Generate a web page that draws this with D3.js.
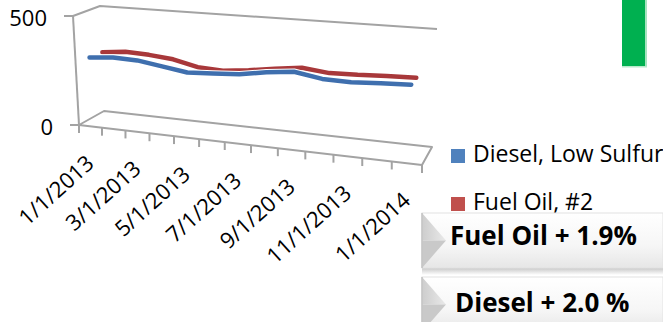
<!DOCTYPE html>
<html>
<head>
<meta charset="utf-8">
<script src="https://cdn.jsdelivr.net/npm/d3@7"></script>
<style>
  html, body { margin: 0; padding: 0; background: #fff; overflow: hidden; }
  text { font-family: "Open Sans", "Liberation Sans", sans-serif; }
</style>
</head>
<body>
<svg id="chart" width="663" height="322"></svg>
<script>
// Monthly prices, Jan 2013 – Jan 2014
const months = ["1/1/2013", "2/1/2013", "3/1/2013", "4/1/2013", "5/1/2013", "6/1/2013",
                "7/1/2013", "8/1/2013", "9/1/2013", "10/1/2013", "11/1/2013", "12/1/2013", "1/1/2014"];
const tickLabels = ["1/1/2013", "3/1/2013", "5/1/2013", "7/1/2013", "9/1/2013", "11/1/2013", "1/1/2014"];
const dieselLowSulfur = [309, 319, 315, 298, 281, 287, 294, 313, 326, 306, 303, 310, 315];
const fuelOilNo2      = [307, 318, 313, 302, 276, 270, 283, 299, 314, 301, 304, 310, 313];
const valueTicks = [0, 500];
const seriesNames = ["Diesel, Low Sulfur", "Fuel Oil, #2"];
const seriesColors = ["#4F81BD", "#C0504D"];
const lineColors = ["#3f6fae", "#a8383a"];
const callouts = ["Fuel Oil + 1.9%", "Diesel + 2.0 %"];

const svg = d3.select("#chart");

// Scales in unit space; the 3-D box projection maps them onto the page.
const x = d3.scaleBand().domain(months).range([0, 1]);
const y = d3.scaleLinear().domain([0, 500]).range([0, 1]);

// Corners of the plot box: f = front, b = back; first digit category, second value.
const box = {
  f00: [79, 125], f10: [422, 165], f01: [73, 16], f11: [428, 42],
  b00: [104, 111], b10: [432, 147], b01: [100, 6], b11: [437, 29]
};
const persp = 1.16;
const warp = u => u / (persp + (1 - persp) * u);
const lerp = (a, b, k) => a + (b - a) * k;
const lerp2 = (p, q, k) => [lerp(p[0], q[0], k), lerp(p[1], q[1], k)];
function project(u, v, w) {
  const t = warp(u);
  const fb = lerp2(box.f00, box.f10, t), ft = lerp2(box.f01, box.f11, t);
  const bb = lerp2(box.b00, box.b10, t), bt = lerp2(box.b01, box.b11, t);
  return lerp2(lerp2(fb, ft, v), lerp2(bb, bt, v), w);
}

const gridColor = "#a3a3a3";
const frame = svg.append("g").attr("fill", "none").attr("stroke", gridColor)
  .attr("stroke-width", 2).attr("stroke-linejoin", "round");

// floor
frame.append("path").attr("d", d3.line()([
  project(0, 0, 0), project(1, 0, 0), project(1, 0, 1), project(0, 0, 1), project(0, 0, 0)
]));
// back wall top edge and left wall top edge
frame.append("path").attr("d", d3.line()([project(0, 1, 0), project(0, 1, 1), project(1, 1, 1)]));
// value axis
frame.append("path").attr("d", d3.line()([project(0, 0, 0), project(0, 1, 0)]));

// value ticks and labels
valueTicks.forEach(v => {
  const p = project(0, y(v), 0);
  frame.append("line").attr("x1", p[0] - 9).attr("y1", p[1]).attr("x2", p[0]).attr("y2", p[1]);
  svg.append("text").attr("x", p[0] - 26).attr("y", p[1] + 2).attr("dy", "0.36em")
    .attr("text-anchor", "end").attr("font-size", 22).attr("fill", "#000").text(v);
});

// category ticks on band boundaries
const bounds = months.map(m => x(m)).concat([1]);
bounds.forEach(u => {
  const p = project(u, 0, 0);
  frame.append("line").attr("x1", p[0]).attr("y1", p[1]).attr("x2", p[0]).attr("y2", p[1] + 8);
});

// category labels
const center = m => x(m) + x.bandwidth() / 2;
tickLabels.forEach(m => {
  const p = project(center(m), 0, 0);
  svg.append("text")
    .attr("transform", `translate(${p[0] + 5},${p[1] + 39}) rotate(-42)`)
    .attr("text-anchor", "end").attr("font-size", 22).attr("fill", "#000").text(m);
});

// series ribbons, back row first
const series = [
  { values: fuelOilNo2, depth: 0.6, color: lineColors[1] },
  { values: dieselLowSulfur, depth: 0.1, color: lineColors[0] }
];
const line = d3.line();
series.forEach(s => {
  const pts = months.map((m, i) => project(center(m), y(s.values[i]), s.depth));
  svg.append("path").attr("d", line(pts)).attr("fill", "none")
    .attr("stroke", "#ffffff").attr("stroke-width", 6.5).attr("stroke-linejoin", "round");
  svg.append("path").attr("d", line(pts)).attr("fill", "none")
    .attr("stroke", s.color).attr("stroke-width", 4.5)
    .attr("stroke-linejoin", "round").attr("stroke-linecap", "round");
});

// legend
const legend = svg.append("g");
seriesNames.forEach((name, i) => {
  const yb = 162 + i * 48;
  legend.append("rect").attr("x", 451).attr("y", yb - 13).attr("width", 14).attr("height", 14)
    .attr("fill", seriesColors[i]);
  legend.append("text").attr("x", 473).attr("y", yb).attr("font-size", 23).attr("fill", "#000").text(name);
});

// callout boxes
const defs = svg.append("defs");
const bodyGrad = defs.append("linearGradient").attr("id", "bodyGrad")
  .attr("x1", 0).attr("y1", 0).attr("x2", 0).attr("y2", 1);
bodyGrad.append("stop").attr("offset", 0).attr("stop-color", "#ffffff");
bodyGrad.append("stop").attr("offset", 0.6).attr("stop-color", "#f6f6f6");
bodyGrad.append("stop").attr("offset", 1).attr("stop-color", "#e6e6e6");
const shadowGrad = defs.append("linearGradient").attr("id", "shadowGrad")
  .attr("x1", 0).attr("y1", 0).attr("x2", 0).attr("y2", 1);
shadowGrad.append("stop").attr("offset", 0).attr("stop-color", "#b8b8b8");
shadowGrad.append("stop").attr("offset", 1).attr("stop-color", "#ffffff");
const chevGrad = defs.append("linearGradient").attr("id", "chevGrad")
  .attr("x1", 0).attr("y1", 0).attr("x2", 1).attr("y2", 0);
chevGrad.append("stop").attr("offset", 0).attr("stop-color", "#cdcdcd");
chevGrad.append("stop").attr("offset", 1).attr("stop-color", "#e9e9e9");

const boxes = [
  { top: 213, h: 55, text: callouts[0], tx: 450, ty: 245 },
  { top: 277, h: 55, text: callouts[1], tx: 455, ty: 312 }
];
boxes.forEach(b => {
  const g = svg.append("g");
  g.append("rect").attr("x", 422).attr("y", b.top + b.h - 2).attr("width", 241).attr("height", 9)
    .attr("fill", "url(#shadowGrad)");
  g.append("rect").attr("x", 422).attr("y", b.top).attr("width", 241).attr("height", b.h)
    .attr("fill", "url(#bodyGrad)").attr("stroke", "#e2e2e2").attr("stroke-width", 1);
  const mid = b.top + b.h / 2;
  g.append("path").attr("d", d3.line()([[422, b.top], [446, mid], [422, mid]]))
    .attr("fill", "url(#chevGrad)");
  g.append("path").attr("d", d3.line()([[422, mid], [446, mid], [422, b.top + b.h]]))
    .attr("fill", "#c9c9c9");
  g.append("line").attr("x1", 422).attr("y1", b.top).attr("x2", 422).attr("y2", b.top + b.h)
    .attr("stroke", "#c4c4c4").attr("stroke-width", 1.5);
  g.append("text").attr("x", b.tx).attr("y", b.ty).attr("font-size", 26).attr("font-weight", "bold")
    .attr("fill", "#000").text(b.text);
});

// green marker
svg.append("rect").attr("x", 645).attr("y", 0).attr("width", 2).attr("height", 67).attr("fill", "#a6e3bf");
svg.append("rect").attr("x", 622).attr("y", 66).attr("width", 25).attr("height", 1.5).attr("fill", "#b8e9cb");
svg.append("rect").attr("x", 622).attr("y", 0).attr("width", 23).attr("height", 66).attr("fill", "#00B050");
</script>
</body>
</html>
